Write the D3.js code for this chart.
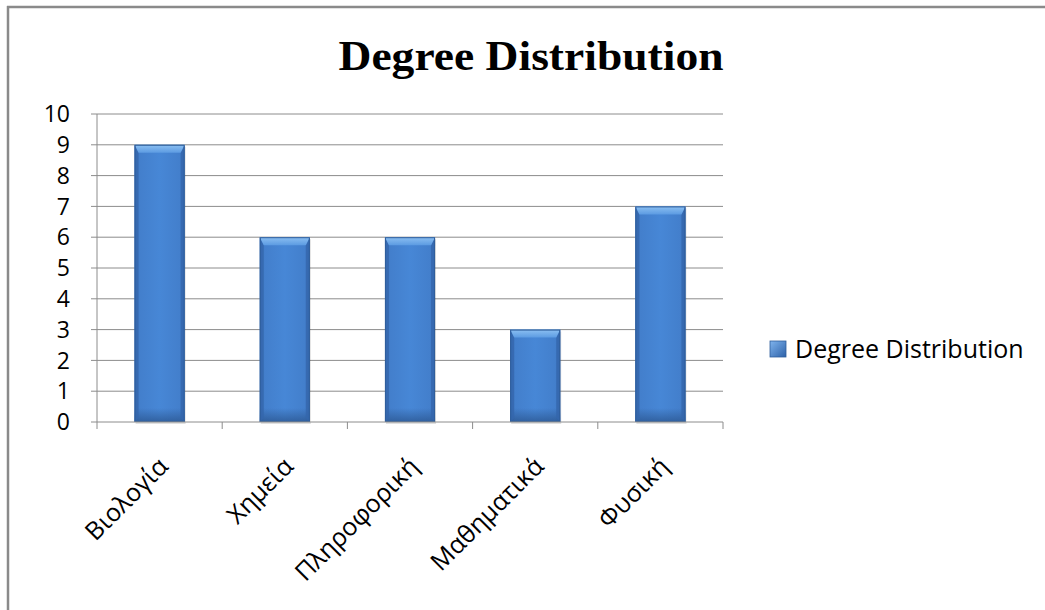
<!DOCTYPE html>
<html>
<head>
<meta charset="utf-8">
<script src="https://cdn.jsdelivr.net/npm/d3@7"></script>
<style>
  html, body { margin: 0; padding: 0; background: #fff; }
  svg { display: block; }
</style>
</head>
<body>
<svg id="chart" width="1045" height="610"></svg>
<script>
// Subjects along the x axis and their counts
const categories = ["Βιολογία", "Χημεία", "Πληροφορική", "Μαθηματικά", "Φυσική"];
const values = [9, 6, 6, 3, 7];
const yTicks = [0, 1, 2, 3, 4, 5, 6, 7, 8, 9, 10];
const seriesName = "Degree Distribution";
const chartTitle = "Degree Distribution";

const W = 1045, H = 610;
const plot = { left: 97, right: 723, top: 114, bottom: 422 };
const labelFont = "'Open Sans', 'DejaVu Sans', sans-serif";

const svg = d3.select("#chart");

// Frame around the chart
svg.append("rect").attr("width", W).attr("height", H).attr("fill", "#fff");
svg.append("line").attr("x1", 7).attr("x2", W).attr("y1", 7).attr("y2", 7)
  .attr("stroke", "#8a8a8a").attr("stroke-width", 2.5);
svg.append("line").attr("x1", 8).attr("x2", 8).attr("y1", 6).attr("y2", H)
  .attr("stroke", "#8a8a8a").attr("stroke-width", 2.5);

const x = d3.scaleBand().domain(categories).range([plot.left, plot.right]).paddingInner(0.6).paddingOuter(0.3);
const xEdge = d3.scaleLinear().domain([0, categories.length]).range([plot.left, plot.right]);
const y = d3.scaleLinear().domain([0, 10]).range([plot.bottom, plot.top]);

// Gradients for the bevelled bars
const defs = svg.append("defs");
const gMain = defs.append("linearGradient").attr("id", "barMain").attr("x1", 0).attr("x2", 1).attr("y1", 0).attr("y2", 0);
gMain.append("stop").attr("offset", "0%").attr("stop-color", "#3a6fb6");
gMain.append("stop").attr("offset", "10%").attr("stop-color", "#437fcc");
gMain.append("stop").attr("offset", "50%").attr("stop-color", "#4787d6");
gMain.append("stop").attr("offset", "90%").attr("stop-color", "#437fcc");
gMain.append("stop").attr("offset", "100%").attr("stop-color", "#3a6fb6");

const gTop = defs.append("linearGradient").attr("id", "barTop").attr("x1", 0).attr("x2", 0).attr("y1", 0).attr("y2", 1);
gTop.append("stop").attr("offset", "0%").attr("stop-color", "#8cc0f2");
gTop.append("stop").attr("offset", "100%").attr("stop-color", "#5c9be2");

const gBottom = defs.append("linearGradient").attr("id", "barBottom").attr("x1", 0).attr("x2", 0).attr("y1", 0).attr("y2", 1);
gBottom.append("stop").attr("offset", "0%").attr("stop-color", "#2d5a96").attr("stop-opacity", 0);
gBottom.append("stop").attr("offset", "100%").attr("stop-color", "#2d5a96").attr("stop-opacity", 0.85);

const gLeg = defs.append("linearGradient").attr("id", "legSq").attr("x1", 0).attr("x2", 1).attr("y1", 0).attr("y2", 1);
gLeg.append("stop").attr("offset", "0%").attr("stop-color", "#7fb4ee");
gLeg.append("stop").attr("offset", "100%").attr("stop-color", "#2d61a8");

// Horizontal gridlines
svg.append("g").selectAll("line").data(yTicks.slice(1)).join("line")
  .attr("x1", plot.left).attr("x2", plot.right)
  .attr("y1", d => y(d)).attr("y2", d => y(d))
  .attr("stroke", "#8c8c8c").attr("stroke-width", 1);

// Bars
const bars = svg.append("g").selectAll("g").data(categories.map((c, i) => ({ c, v: values[i] }))).join("g");
const bevel = 8, side = 4;
bars.each(function (d) {
  const g = d3.select(this);
  const x0 = x(d.c), w = x.bandwidth(), y0 = y(d.v), h = y(0) - y(d.v);
  // soft shadow at the bottom
  g.append("rect").attr("x", x0 + 1).attr("y", y0 + 2).attr("width", w).attr("height", h)
    .attr("fill", "#000").attr("opacity", 0.12);
  g.append("rect").attr("x", x0).attr("y", y0).attr("width", w).attr("height", h)
    .attr("fill", "url(#barMain)");
  // darker base
  g.append("rect").attr("x", x0).attr("y", y(0) - Math.min(14, h)).attr("width", w).attr("height", Math.min(14, h))
    .attr("fill", "url(#barBottom)");
  // side strips
  g.append("path").attr("d", `M${x0},${y0} L${x0 + side},${y0 + bevel} L${x0 + side},${y(0) - side} L${x0},${y(0)} Z`)
    .attr("fill", "#3467ad").attr("opacity", 0.8);
  g.append("path").attr("d", `M${x0 + w},${y0} L${x0 + w - side},${y0 + bevel} L${x0 + w - side},${y(0) - side} L${x0 + w},${y(0)} Z`)
    .attr("fill", "#3467ad").attr("opacity", 0.8);
  // top bevel
  g.append("path").attr("d", `M${x0},${y0} L${x0 + w},${y0} L${x0 + w - side},${y0 + bevel} L${x0 + side},${y0 + bevel} Z`)
    .attr("fill", "url(#barTop)");
  // outline
  g.append("rect").attr("x", x0 + 0.5).attr("y", y0 + 0.5).attr("width", w - 1).attr("height", h - 1)
    .attr("fill", "none").attr("stroke", "#2f5e9c").attr("stroke-width", 1);
});

// Axes lines and tick marks
const axisColor = "#8c8c8c";
svg.append("line").attr("x1", plot.left).attr("x2", plot.left).attr("y1", plot.top).attr("y2", plot.bottom)
  .attr("stroke", axisColor);
svg.append("line").attr("x1", plot.left).attr("x2", plot.right).attr("y1", plot.bottom).attr("y2", plot.bottom)
  .attr("stroke", axisColor);
svg.append("g").selectAll("line").data(yTicks).join("line")
  .attr("x1", plot.left - 6).attr("x2", plot.left)
  .attr("y1", d => y(d)).attr("y2", d => y(d)).attr("stroke", axisColor);
svg.append("g").selectAll("line").data(d3.range(categories.length + 1)).join("line")
  .attr("x1", d => xEdge(d)).attr("x2", d => xEdge(d))
  .attr("y1", plot.bottom).attr("y2", plot.bottom + 7).attr("stroke", axisColor);

// Y tick labels
svg.append("g").selectAll("text").data(yTicks).join("text")
  .attr("x", 70).attr("y", d => y(d)).attr("dy", "0.36em")
  .attr("text-anchor", "end")
  .attr("font-family", labelFont).attr("font-size", 23).attr("fill", "#000")
  .text(d => d);

// Rotated category labels
svg.append("g").selectAll("text").data(categories).join("text")
  .attr("transform", d => `translate(${x(d) + x.bandwidth() / 2 + 10},${plot.bottom + 46}) rotate(-45)`)
  .attr("text-anchor", "end")
  .attr("font-family", labelFont).attr("font-size", 25).attr("fill", "#000")
  .text(d => d);

// Title
svg.append("text").attr("x", 531).attr("y", 70).attr("text-anchor", "middle")
  .attr("font-family", "'Liberation Serif', 'Times New Roman', serif")
  .attr("font-weight", "bold").attr("font-size", 42).attr("fill", "#000")
  .attr("textLength", 385).attr("lengthAdjust", "spacingAndGlyphs")
  .text(chartTitle);

// Legend
svg.append("rect").attr("x", 770).attr("y", 341).attr("width", 16).attr("height", 16)
  .attr("fill", "url(#legSq)").attr("stroke", "#2f5e9c").attr("stroke-width", 0.8);
svg.append("text").attr("x", 795).attr("y", 349).attr("dy", "0.36em")
  .attr("font-family", labelFont).attr("font-size", 25).attr("fill", "#000")
  .text(seriesName);
</script>
</body>
</html>
